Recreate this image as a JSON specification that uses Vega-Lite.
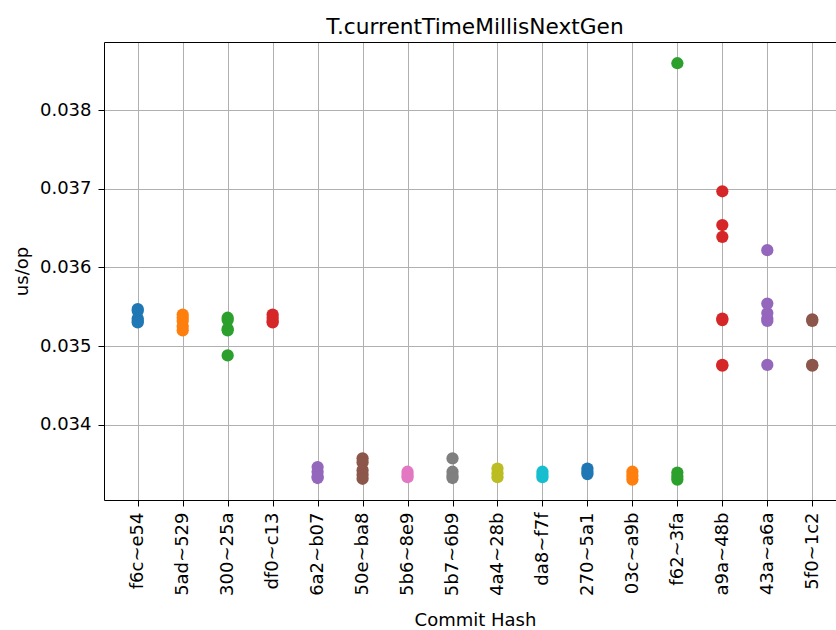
{
  "$schema": "https://vega.github.io/schema/vega-lite/v6.json",
  "width": 732,
  "height": 458,
  "autosize": {"type": "none"},
  "padding": {"left": 104, "top": 42, "right": 0, "bottom": 130},
  "background": "white",
  "config": {"view": {"stroke": null}, "font": "DejaVu Sans"},
  "title": {"text": "T.currentTimeMillisNextGen", "fontSize": 21.7, "fontWeight": "normal", "color": "#000", "offset": 8, "dx": 5, "dy": 22, "baseline": "alphabetic", "font": "DejaVu Sans"},
  "data": {"values": [
    {"commit": "f6c~e54", "v": 0.03547}, {"commit": "f6c~e54", "v": 0.03545}, {"commit": "f6c~e54", "v": 0.03535}, {"commit": "f6c~e54", "v": 0.03532}, {"commit": "f6c~e54", "v": 0.03530},
    {"commit": "5ad~529", "v": 0.03540}, {"commit": "5ad~529", "v": 0.03536}, {"commit": "5ad~529", "v": 0.03532}, {"commit": "5ad~529", "v": 0.03525}, {"commit": "5ad~529", "v": 0.03520},
    {"commit": "300~25a", "v": 0.03536}, {"commit": "300~25a", "v": 0.03533}, {"commit": "300~25a", "v": 0.03522}, {"commit": "300~25a", "v": 0.03520}, {"commit": "300~25a", "v": 0.03488},
    {"commit": "df0~c13", "v": 0.03540}, {"commit": "df0~c13", "v": 0.03536}, {"commit": "df0~c13", "v": 0.03532}, {"commit": "df0~c13", "v": 0.03530},
    {"commit": "6a2~b07", "v": 0.03346}, {"commit": "6a2~b07", "v": 0.03340}, {"commit": "6a2~b07", "v": 0.03334}, {"commit": "6a2~b07", "v": 0.03332},
    {"commit": "50e~ba8", "v": 0.03357}, {"commit": "50e~ba8", "v": 0.03352}, {"commit": "50e~ba8", "v": 0.03342}, {"commit": "50e~ba8", "v": 0.03336}, {"commit": "50e~ba8", "v": 0.03331},
    {"commit": "5b6~8e9", "v": 0.03340}, {"commit": "5b6~8e9", "v": 0.03336}, {"commit": "5b6~8e9", "v": 0.03333},
    {"commit": "5b7~6b9", "v": 0.03357}, {"commit": "5b7~6b9", "v": 0.03340}, {"commit": "5b7~6b9", "v": 0.03335}, {"commit": "5b7~6b9", "v": 0.03332},
    {"commit": "4a4~28b", "v": 0.03344}, {"commit": "4a4~28b", "v": 0.03338}, {"commit": "4a4~28b", "v": 0.03333},
    {"commit": "da8~f7f", "v": 0.03340}, {"commit": "da8~f7f", "v": 0.03336}, {"commit": "da8~f7f", "v": 0.03333},
    {"commit": "270~5a1", "v": 0.03344}, {"commit": "270~5a1", "v": 0.03340}, {"commit": "270~5a1", "v": 0.03337},
    {"commit": "03c~a9b", "v": 0.03340}, {"commit": "03c~a9b", "v": 0.03335}, {"commit": "03c~a9b", "v": 0.03330},
    {"commit": "f62~3fa", "v": 0.03860}, {"commit": "f62~3fa", "v": 0.03339}, {"commit": "f62~3fa", "v": 0.03334}, {"commit": "f62~3fa", "v": 0.03330},
    {"commit": "a9a~48b", "v": 0.03697}, {"commit": "a9a~48b", "v": 0.03654}, {"commit": "a9a~48b", "v": 0.03639}, {"commit": "a9a~48b", "v": 0.03535}, {"commit": "a9a~48b", "v": 0.03533}, {"commit": "a9a~48b", "v": 0.03476}, {"commit": "a9a~48b", "v": 0.03475},
    {"commit": "43a~a6a", "v": 0.03622}, {"commit": "43a~a6a", "v": 0.03554}, {"commit": "43a~a6a", "v": 0.03542}, {"commit": "43a~a6a", "v": 0.03535}, {"commit": "43a~a6a", "v": 0.03532}, {"commit": "43a~a6a", "v": 0.03476},
    {"commit": "5f0~1c2", "v": 0.03534}, {"commit": "5f0~1c2", "v": 0.03532}, {"commit": "5f0~1c2", "v": 0.03476}, {"commit": "5f0~1c2", "v": 0.03475}
  ]},
  "layer": [
    {
      "mark": {"type": "point", "filled": true, "opacity": 1, "size": 150},
      "encoding": {
        "x": {"field": "commit", "type": "nominal", "sort": null,
          "scale": {"type": "point", "range": [0, 742], "padding": 0.75},
          "axis": {"orient": "bottom", "title": "Commit Hash", "titleFontSize": 18, "titleFontWeight": "normal", "titleColor": "#000", "titlePadding": 16,
            "labelAngle": -90, "labelFontSize": 18, "labelColor": "#000", "labelPadding": 6,
            "ticks": true, "tickSize": 6, "tickColor": "#000", "tickWidth": 1,
            "domain": true, "domainColor": "#000", "domainWidth": 1,
            "grid": true, "gridColor": "#b0b0b0", "gridWidth": 1}},
        "y": {"field": "v", "type": "quantitative",
          "scale": {"domain": [0.03304, 0.03887], "nice": false, "zero": false},
          "axis": {"title": "us/op", "titleFontSize": 18, "titleFontWeight": "normal", "titleColor": "#000", "titlePadding": 8,
            "values": [0.034, 0.035, 0.036, 0.037, 0.038], "format": ".3f",
            "labelFontSize": 18, "labelColor": "#000", "labelPadding": 7,
            "tickSize": 6, "tickColor": "#000", "tickWidth": 1,
            "domainColor": "#000", "domainWidth": 1,
            "grid": true, "gridColor": "#b0b0b0", "gridWidth": 1}},
        "color": {"field": "commit", "type": "nominal", "legend": null,
          "scale": {"domain": ["f6c~e54", "5ad~529", "300~25a", "df0~c13", "6a2~b07", "50e~ba8", "5b6~8e9", "5b7~6b9", "4a4~28b", "da8~f7f", "270~5a1", "03c~a9b", "f62~3fa", "a9a~48b", "43a~a6a", "5f0~1c2"],
            "range": ["#1f77b4", "#ff7f0e", "#2ca02c", "#d62728", "#9467bd", "#8c564b", "#e377c2", "#7f7f7f", "#bcbd22", "#17becf", "#1f77b4", "#ff7f0e", "#2ca02c", "#d62728", "#9467bd", "#8c564b"]}}
      }
    },
    {
      "mark": {"type": "point", "opacity": 0},
      "encoding": {
        "x": {"field": "commit", "type": "nominal", "sort": null,
          "axis": {"orient": "top", "title": null, "labels": false, "ticks": false, "grid": false, "domain": true, "domainColor": "#000", "domainWidth": 1, "minExtent": 0, "maxExtent": 0, "offset": 0}},
        "y": {"field": "v", "type": "quantitative"}
      }
    }
  ],
  "resolve": {"axis": {"x": "independent"}}
}
